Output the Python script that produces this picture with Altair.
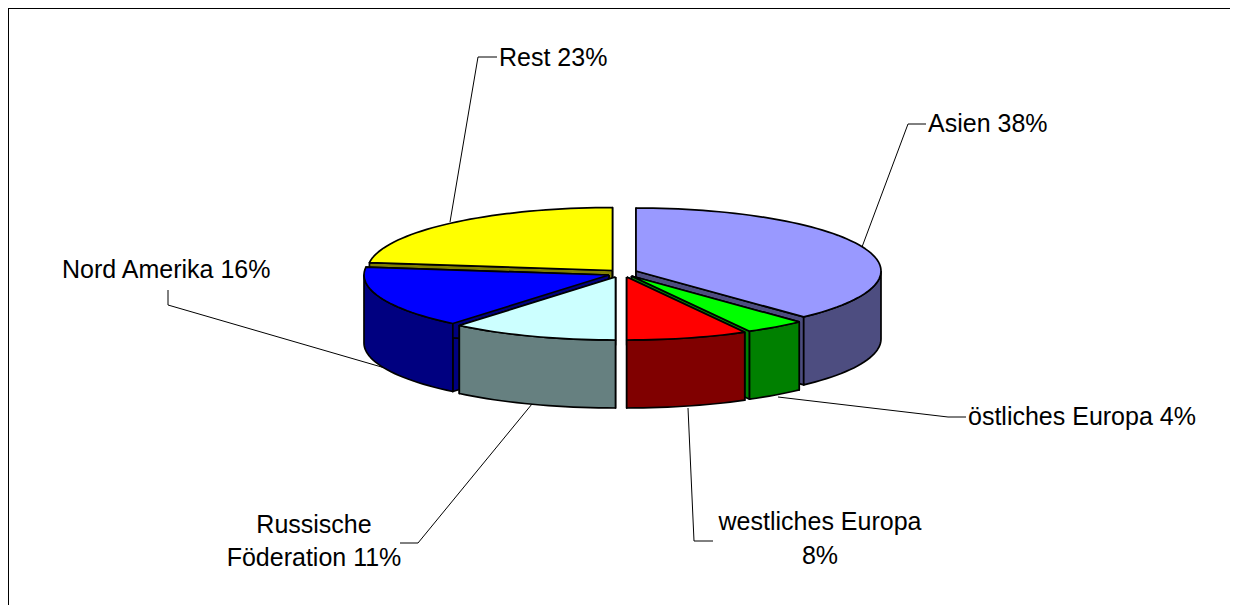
import math
import altair as alt
import pandas as pd

# ---- chart content ----
names = ["Asien", "östliches Europa", "westliches Europa", "Russische Föderation", "Nord Amerika", "Rest"]
shares = [38, 4, 8, 11, 16, 23]
top_colours = ["#9999FF", "#00FF00", "#FF0000", "#CCFFFF", "#0000FF", "#FFFF00"]
side_colours = ["#4D4D80", "#008000", "#800000", "#668080", "#000080", "#808000"]
centre_x = [636.0, 631.5, 626.7, 615.5, 609.0, 612.5]
centre_y = [271.0, 276.0, 277.0, 277.0, 275.0, 270.5]
paint_order = [5, 0, 4, 1, 2, 3]

label_lines = ["Rest 23%", "Asien 38%", "östliches Europa 4%", "westliches Europa", "8%",
               "Russische", "Föderation 11%", "Nord Amerika 16%"]
label_x = [499, 928, 968, 820, 820, 314, 314, 62]
label_y = [58, 124, 417, 522, 556, 525, 558, 270]
label_align = ["left", "left", "left", "center", "center", "center", "center", "left"]

leader_x = [[450, 478, 497], [862, 908, 926], [778, 948, 966], [688, 694, 713], [532, 418, 400], [385, 168, 168]]
leader_y = [[222, 57, 57], [247, 124, 124], [397, 417, 417], [408, 541, 541], [404, 543, 543], [368, 305, 290]]
frame_x = [[8, 1230], [8, 8]]
frame_y = [[8, 8], [8, 605]]

RX, RY, DEPTH = 245.0, 63.0, 68.0
W, H = 1222, 597

# ---- slice outlines derived from the shares ----
edges = [0.0]
for s in shares:
    edges.append(edges[-1] + s * 3.6)


def rim(cx, cy, a0, a1, dy=0.0):
    n = max(2, int((a1 - a0) / 2) + 1)
    pts = []
    for i in range(n + 1):
        a = math.radians(a0 + (a1 - a0) * i / n)
        pts.append((cx + RX * math.sin(a), cy - RY * math.cos(a) + dy))
    return pts


rows = []
poly_id = 0


def add(points, colour):
    global poly_id
    closed = points + [points[0]]
    for k, (px, py) in enumerate(closed):
        rows.append({"poly": poly_id, "seq": k, "x": px, "y": py, "colour": colour})
    poly_id += 1


for i in paint_order:
    cx, cy = centre_x[i], centre_y[i]
    a0, a1 = edges[i], edges[i + 1]
    for a in (a0, a1):
        p = rim(cx, cy, a, a)[0]
        add([(cx, cy), p, (p[0], p[1] + DEPTH), (cx, cy + DEPTH)], side_colours[i])
    w0, w1 = max(a0, 90.0), min(a1, 270.0)
    if w1 > w0:
        add(rim(cx, cy, w0, w1) + rim(cx, cy, w0, w1, DEPTH)[::-1], side_colours[i])
    add([(cx, cy)] + rim(cx, cy, a0, a1), top_colours[i])

polys = pd.DataFrame(rows)

line_rows = []
for j, (xs, ys) in enumerate(zip(leader_x + frame_x, leader_y + frame_y)):
    for k, (px, py) in enumerate(zip(xs, ys)):
        line_rows.append({"line": j, "seq": k, "x": px, "y": py, "kind": "leader" if j < len(leader_x) else "frame"})
lines = pd.DataFrame(line_rows)

labels = pd.DataFrame({"text": label_lines, "x": label_x, "y": label_y, "align": label_align})

X = alt.X("x:Q", scale=alt.Scale(domain=[8, 8 + W], range=[0, W], nice=False, zero=False), axis=None)
Y = alt.Y("y:Q", scale=alt.Scale(domain=[8, 8 + H], range=[0, H], nice=False, zero=False), axis=None)

leader_layer = alt.Chart(lines[lines.kind == "leader"]).mark_line(color="#000000", strokeWidth=1).encode(
    x=X, y=Y, detail="line:N", order="seq:Q")
frame_layer = alt.Chart(lines[lines.kind == "frame"]).mark_line(color="#000000", strokeWidth=2).encode(
    x=X, y=Y, detail="line:N", order="seq:Q")
poly_layer = alt.Chart(polys).mark_line(stroke="#000000", strokeWidth=1.7, strokeJoin="round").encode(
    x=X, y=Y, detail="poly:N", order="seq:Q", fill=alt.Fill("colour:N", scale=None, legend=None))

text_layers = []
for al in ["left", "center"]:
    text_layers.append(alt.Chart(labels[labels["align"] == al]).mark_text(
        align=al, baseline="middle", font="Liberation Sans", fontSize=25, color="#000000").encode(
        x=X, y=Y, text="text:N"))

chart = alt.layer(
    frame_layer, leader_layer, poly_layer, *text_layers
).properties(width=W, height=H, padding=0, background="#FFFFFF",
             autosize=alt.AutoSizeParams(type="none")).configure_view(stroke=None)

chart.save("out.html", embed_options={"renderer": "svg", "actions": False})
